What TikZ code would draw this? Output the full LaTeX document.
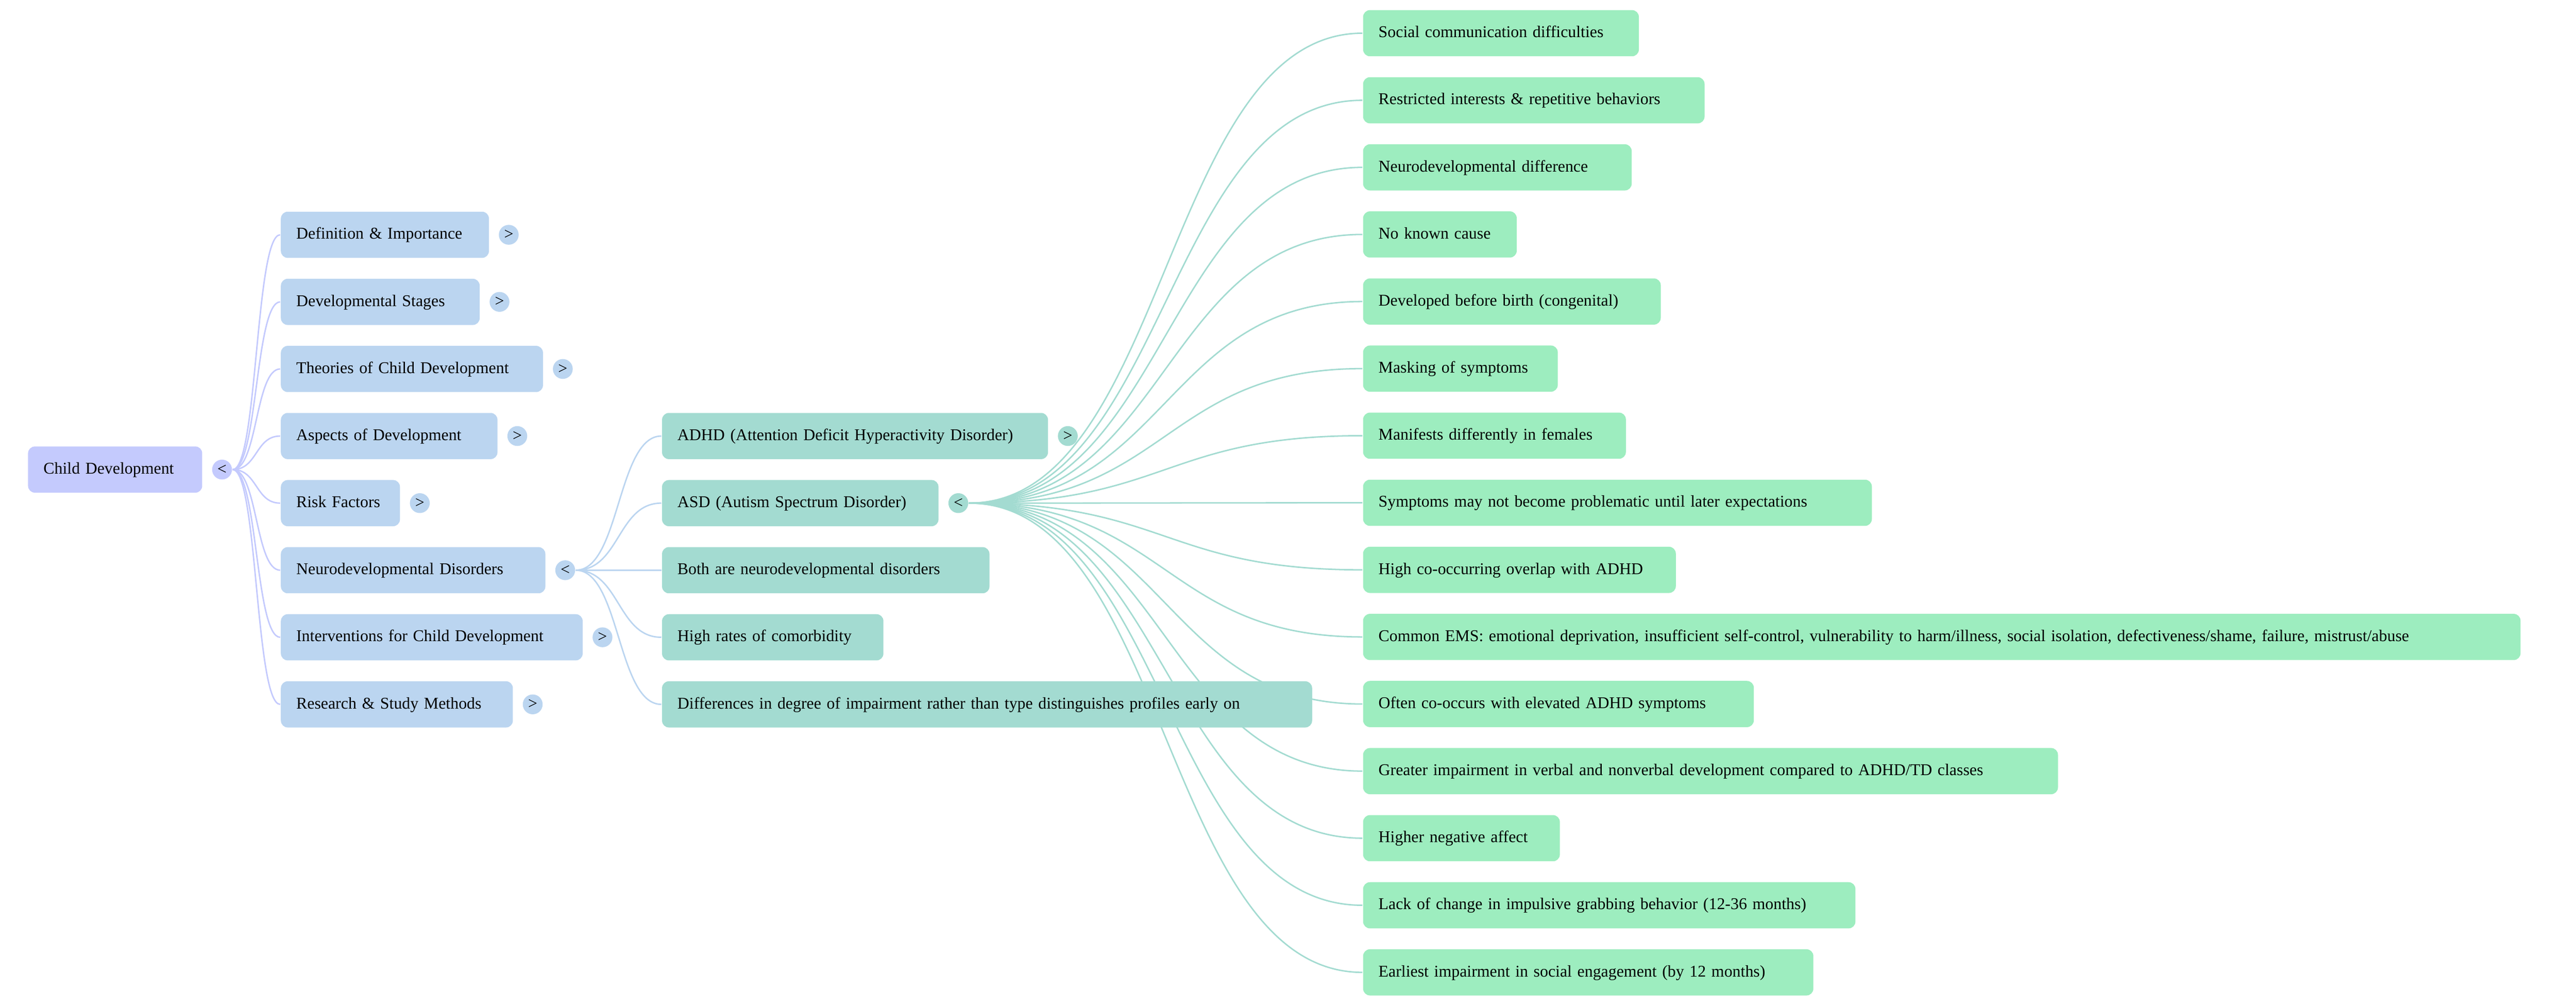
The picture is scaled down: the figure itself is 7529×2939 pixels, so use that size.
\documentclass[tikz,border=0pt]{standalone}
\usepackage{fontspec}
\setmainfont{Liberation Serif}
\usetikzlibrary{positioning,backgrounds}

\definecolor{rootcol}{RGB}{196,202,253}
\definecolor{topiccol}{RGB}{187,213,240}
\definecolor{subcol}{RGB}{163,219,209}
\definecolor{leafcol}{RGB}{157,237,191}

\tikzset{
    box/.style={anchor=west, rounded corners=2pt, minimum height=13.5pt,
        inner xsep=4.5pt, inner ysep=0pt, text height=3.4pt, text depth=0.9pt,
        align=left, font=\fontsize{4.8pt}{5.8pt}\selectfont, boxw=#1},
    boxw/.code={\pgfmathsetmacro\bw{#1/10}\pgfmathsetmacro\tw{#1/10-9}%
        \tikzset{minimum width=\bw pt, text width=\tw pt}},
    toggle/.style={circle, inner sep=0pt, minimum size=5.8pt,
        font=\fontsize{4.8pt}{5.8pt}\selectfont},
    link/.style={line width=0.42pt}
}

\begin{document}
\begin{tikzpicture}[x=0.1pt, y=-0.1pt]
    \useasboundingbox (0,0) rectangle (7529,2939);

    \node[box=509, fill=rootcol] (child) at (80,1372) {Child Development};
    \node[toggle, fill=rootcol, right=2.5pt of child] (child-t) {<};

    \foreach \n/\txt/\w/\s [count=\k from 0] in {
        def/Definition \& Importance/608/>,
        stages/Developmental Stages/581/>,
        theories/Theories of Child Development/766/>,
        aspects/Aspects of Development/633/>,
        risk/Risk Factors/348/>,
        neuro/Neurodevelopmental Disorders/773/<,
        interv/Interventions for Child Development/882/>,
        research/Research \& Study Methods/678/>}
    {
        \node[box=\w, fill=topiccol] (\n) at (819,686+196*\k) {\txt};
        \node[toggle, fill=topiccol, right=2.5pt of \n] (\n-t) {\s};
    }

    \foreach \n/\txt/\w [count=\k from 0] in {
        adhd/ADHD (Attention Deficit Hyperactivity Disorder)/1128,
        asd/ASD (Autism Spectrum Disorder)/808,
        both/Both are neurodevelopmental disorders/957,
        comorb/High rates of comorbidity/647,
        degree/Differences in degree of impairment rather than type distinguishes profiles early on/1900}
        \node[box=\w, fill=subcol] (\n) at (1933,1274+196*\k) {\txt};

    \node[toggle, fill=subcol, right=2.5pt of adhd] (adhd-t) {>};
    \node[toggle, fill=subcol, right=2.5pt of asd] (asd-t) {<};

    \foreach \txt/\w [count=\i from 0] in {
        Social communication difficulties/806,
        Restricted interests \& repetitive behaviors/998,
        Neurodevelopmental difference/785,
        No known cause/449,
        Developed before birth (congenital)/870,
        Masking of symptoms/569,
        Manifests differently in females/768,
        Symptoms may not become problematic until later expectations/1487,
        High co-occurring overlap with ADHD/914,
        {Common EMS: emotional deprivation, insufficient self-control, vulnerability to harm/illness, social isolation, defectiveness/shame, failure, mistrust/abuse}/3383,
        Often co-occurs with elevated ADHD symptoms/1142,
        {Greater impairment in verbal and nonverbal development compared to ADHD/TD classes}/2031,
        Higher negative affect/575,
        Lack of change in impulsive grabbing behavior (12-36 months)/1439,
        Earliest impairment in social engagement (by 12 months)/1316}
        \node[box=\w, fill=leafcol] (leaf\i) at (3982,97+196*\i) {\txt};

    \begin{scope}[on background layer]
        \foreach \n in {def,stages,theories,aspects,risk,neuro,interv,research}
            \draw[link, rootcol] (child-t.east) .. controls +(73,0) and +(-73,0) .. (\n.west);
        \foreach \n in {adhd,asd,both,comorb,degree}
            \draw[link, topiccol] (neuro-t.east) .. controls +(129,0) and +(-129,0) .. (\n.west);
        \foreach \i in {0,...,14}
            \draw[link, subcol] (asd-t.east) .. controls +(579,0) and +(-579,0) .. (leaf\i.west);
    \end{scope}
\end{tikzpicture}
\end{document}
